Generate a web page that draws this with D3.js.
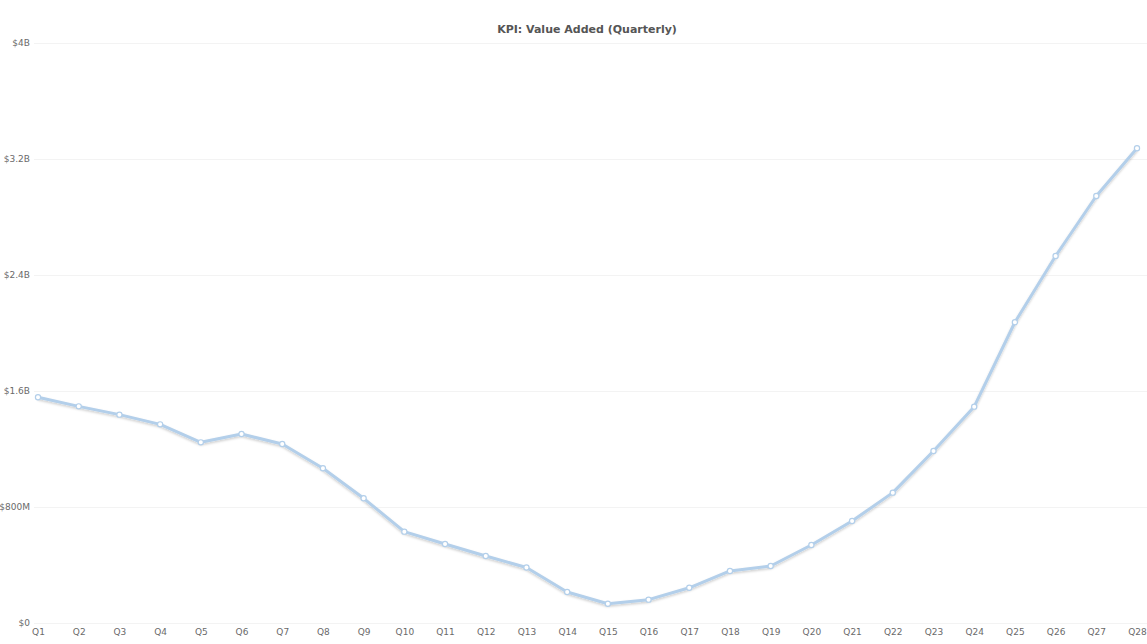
<!DOCTYPE html>
<html>
<head>
<meta charset="utf-8">
<script src="https://cdn.jsdelivr.net/npm/d3@7"></script>
<style>
  html, body { margin: 0; padding: 0; background: #fff; }
  svg { display: block; font-family: "DejaVu Sans", Verdana, sans-serif; }
</style>
</head>
<body>
<svg id="chart" width="1147" height="644"></svg>
<script>
// Quarter labels and value added per quarter (USD)
const quarters = d3.range(1, 29).map(i => "Q" + i);
const valueAdded = [
  1557e6, 1494e6, 1437e6, 1370e6, 1246e6, 1303e6, 1234e6, 1067e6,
  860e6, 630e6, 545e6, 462e6, 383e6, 214e6, 133e6, 161e6,
  243e6, 359e6, 393e6, 538e6, 703e6, 899e6, 1186e6, 1492e6,
  2074e6, 2531e6, 2945e6, 3274e6
];
const yTicks = [0, 800e6, 1600e6, 2400e6, 3200e6, 4000e6];
const yTickLabels = ["$0", "$800M", "$1.6B", "$2.4B", "$3.2B", "$4B"];
const title = "KPI: Value Added (Quarterly)";

const width = 1147, height = 644;
const margin = { top: 43, right: 10, bottom: 21, left: 38 };

const svg = d3.select("#chart");

const x = d3.scalePoint()
  .domain(quarters)
  .range([margin.left, width - margin.right]);

const y = d3.scaleLinear()
  .domain([0, 4000e6])
  .range([height - margin.bottom, margin.top]);

// soft drop shadow under the series line
const defs = svg.append("defs");
const f = defs.append("filter").attr("id", "shadow")
  .attr("x", "-5%").attr("y", "-5%").attr("width", "110%").attr("height", "120%");
f.append("feDropShadow")
  .attr("dx", 0).attr("dy", 1.5).attr("stdDeviation", 1.3)
  .attr("flood-color", "#000").attr("flood-opacity", 0.2);

// horizontal gridlines
svg.append("g")
  .selectAll("line")
  .data(yTicks)
  .join("line")
  .attr("x1", 34)
  .attr("x2", width)
  .attr("y1", d => Math.round(y(d)) + 0.5)
  .attr("y2", d => Math.round(y(d)) + 0.5)
  .attr("stroke", "#f3f3f3")
  .attr("stroke-width", 1);

// y axis labels
const yAxis = d3.axisLeft(y)
  .tickValues(yTicks)
  .tickFormat((d, i) => yTickLabels[i])
  .tickSize(0)
  .tickPadding(0);
svg.append("g")
  .attr("transform", `translate(30,0)`)
  .call(yAxis)
  .call(g => g.select(".domain").remove())
  .call(g => g.selectAll("text")
    .attr("fill", "#6a6a6a")
    .attr("font-size", 9)
    .attr("font-family", "DejaVu Sans, Verdana, sans-serif"));

// x axis labels
const xAxis = d3.axisBottom(x).tickSize(0).tickPadding(0);
svg.append("g")
  .attr("transform", `translate(0,${height - 15})`)
  .call(xAxis)
  .call(g => g.select(".domain").remove())
  .call(g => g.selectAll("text")
    .attr("fill", "#6a6a6a")
    .attr("font-size", 9)
    .attr("font-family", "DejaVu Sans, Verdana, sans-serif"));

// title
svg.append("text")
  .attr("x", 587)
  .attr("y", 33)
  .attr("text-anchor", "middle")
  .attr("font-size", 11)
  .attr("font-weight", "bold")
  .attr("fill", "#555")
  .text(title);

// series line
const line = d3.line()
  .x((d, i) => x(quarters[i]))
  .y(d => y(d));

svg.append("path")
  .datum(valueAdded)
  .attr("d", line)
  .attr("fill", "none")
  .attr("stroke", "#b3cfea")
  .attr("stroke-width", 3)
  .attr("stroke-linejoin", "round")
  .attr("filter", "url(#shadow)");

// point markers
svg.append("g")
  .selectAll("circle")
  .data(valueAdded)
  .join("circle")
  .attr("cx", (d, i) => x(quarters[i]))
  .attr("cy", d => y(d))
  .attr("r", 2.6)
  .attr("fill", "#fff")
  .attr("stroke", "#b3cfea")
  .attr("stroke-width", 1.2);
</script>
</body>
</html>
